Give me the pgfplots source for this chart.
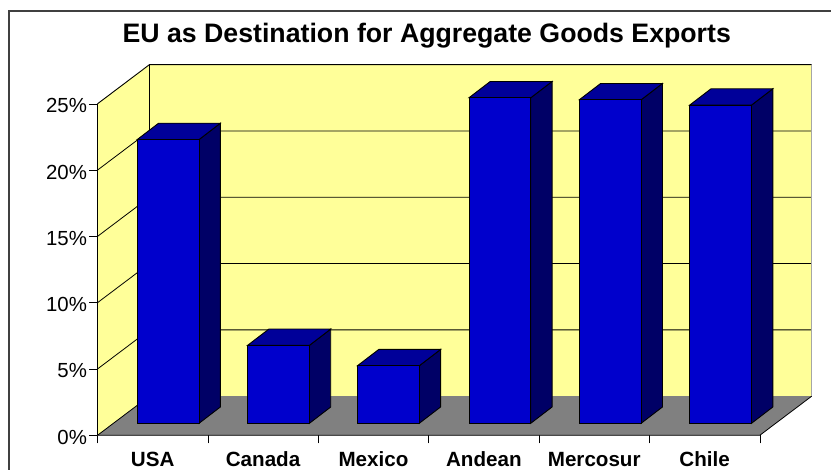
\documentclass[border=0pt]{standalone}
\usepackage{pgfplots}
\usepackage{fontspec}
\setmainfont{Liberation Sans}
\pgfplotsset{compat=1.18}
\definecolor{wallc}{HTML}{FFFF99}
\definecolor{floorc}{HTML}{808080}
\definecolor{frontc}{HTML}{0000CC}
\definecolor{topc}{HTML}{000099}
\definecolor{sidec}{HTML}{000066}
\definecolor{framec}{HTML}{404040}
% depth of the chart box and of the bars, in axis units
\def\DX{0.47}\def\DY{2.95}
\def\BX{0.193}\def\BY{1.23}\def\BASE{0.905}\def\BW{0.56}
\newcommand\gridln[1]{%
  \pgfmathsetmacro\ga{#1+\DY}%
  \edef\tmp{\noexpand\addplot[black,line width=0.8pt] coordinates {(0,#1) (\DX,\ga) (6.47,\ga)};}\tmp}
\newcommand\barbox[2]{% left edge, value
  \pgfmathsetmacro\xa{#1}%
  \pgfmathsetmacro\xb{#1+\BW}%
  \pgfmathsetmacro\xc{#1+\BW+\BX}%
  \pgfmathsetmacro\xd{#1+\BX}%
  \pgfmathsetmacro\ya{\BASE}%
  \pgfmathsetmacro\yb{\BASE+\BY}%
  \pgfmathsetmacro\yc{\BASE+#2}%
  \pgfmathsetmacro\yd{\BASE+#2+\BY}%
  \edef\tmp{\noexpand\addplot[fill=sidec,draw=black,line width=0.9pt] coordinates {(\xb,\ya) (\xc,\yb) (\xc,\yd) (\xb,\yc)} --cycle;}\tmp
  \edef\tmp{\noexpand\addplot[fill=topc,draw=black,line width=0.9pt] coordinates {(\xa,\yc) (\xb,\yc) (\xc,\yd) (\xd,\yd)} --cycle;}\tmp
  \edef\tmp{\noexpand\addplot[fill=frontc,draw=black,line width=0.9pt] coordinates {(\xa,\ya) (\xb,\ya) (\xb,\yc) (\xa,\yc)} --cycle;}\tmp}
\begin{document}
\begin{tikzpicture}[x=1pt,y=1pt]
\useasboundingbox (0,0) rectangle (831,470);
\draw[framec,line width=1.5pt] (9,0) -- (9,459) -- (831,459);
\begin{axis}[
  at={(97.5pt,34.7pt)}, anchor=south west,
  scale only axis, width=714.2pt, height=370.6pt,
  xmin=0, xmax=6.47, ymin=0, ymax=27.95,
  axis x line*=bottom, axis y line*=left,
  axis line style={draw=none},
  clip=false,
  xtick={0,1,2,3,4,5,6},
  x tick label as interval=true,
  xticklabels={USA,Canada,Mexico,Andean,Mercosur,Chile},
  ytick={0,5,10,15,20,25},
  yticklabel={\pgfmathprintnumber{\tick}\%},
  /pgf/number format/assume math mode=true,
  tick style={black,line width=0.6pt},
  major tick length=8pt,
  tick align=outside,
  x tick label style={font=\bfseries\fontsize{20.6}{24}\selectfont,text height=15pt,text depth=0pt,inner sep=0pt,anchor=north,yshift=-8pt},
  y tick label style={font=\fontsize{20.4}{24}\selectfont,xshift=1pt,yshift=-2pt},
  title={EU as Destination for Aggregate Goods Exports},
  title style={font=\bfseries\fontsize{26.7}{30}\selectfont,at={(0.461,1)},anchor=south,yshift=7pt},
]
\addplot[fill=wallc,draw=none] coordinates {(0,0) (0.47,2.95) (0.47,27.95) (0,25)} --cycle;
\addplot[fill=wallc,draw=none] coordinates {(0.47,2.95) (6.47,2.95) (6.47,27.95) (0.47,27.95)} --cycle;
\addplot[fill=floorc,draw=none] coordinates {(0,0) (6,0) (6.47,2.95) (0.47,2.95)} --cycle;
\gridln{5}\gridln{10}\gridln{15}\gridln{20}
\addplot[black,line width=0.9pt] coordinates {(0,25) (0.47,27.95) (6.47,27.95)};
\addplot[black,line width=0.8pt] coordinates {(0.47,2.95) (0.47,27.95)};
\addplot[black,line width=0.8pt] coordinates {(0,0) (0,25)};
\addplot[black,line width=0.8pt] coordinates {(0,0) (0.47,2.95)};
\addplot[black,line width=0.8pt] coordinates {(0,0) (6,0) (6.47,2.95)};
\addplot[gray!70,line width=1.4pt] coordinates {(6.47,2.95) (6.47,27.95)};
\barbox{0.36}{21.4}
\barbox{1.36}{5.88}
\barbox{2.355}{4.34}
\barbox{3.365}{24.55}
\barbox{4.365}{24.4}
\barbox{5.365}{24.0}
\end{axis}
\end{tikzpicture}
\end{document}
